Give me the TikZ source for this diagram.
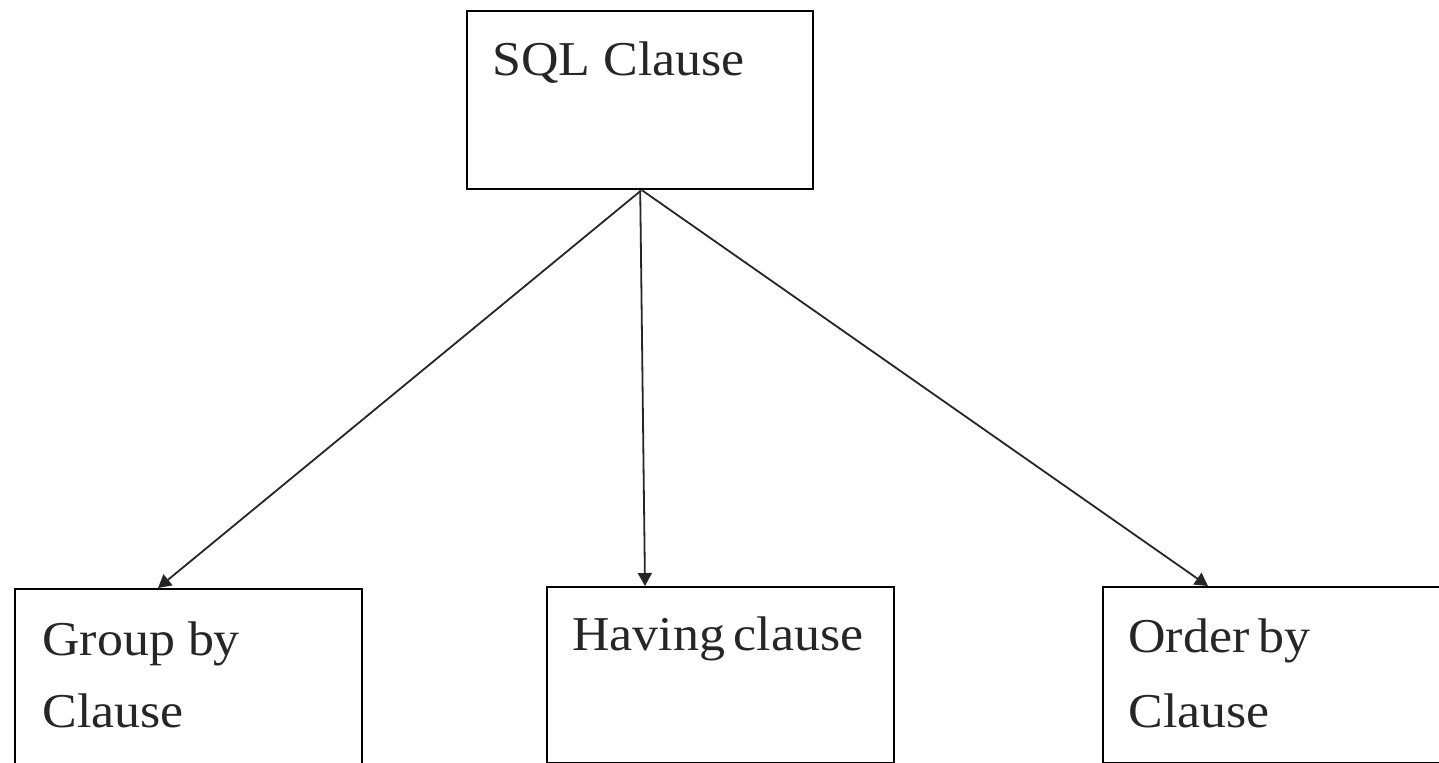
\documentclass[tikz,border=0pt]{standalone}
\usepackage{fontspec}
\setmainfont{Liberation Serif}
\usetikzlibrary{arrows.meta}
\tikzset{
  box/.style={draw=black, line width=1.2pt, fill=white, inner sep=0pt},
  lbl/.style={anchor=base west, inner sep=0pt, font=\fontsize{23.6}{36}\selectfont, text=black!85},
  conn/.style={draw=black!85, line width=0.9pt, -{Triangle[length=6.5pt,width=7pt]}}
}
\newcommand{\wtxt}[1]{\scalebox{1.1}[1.03]{#1}}
\begin{document}
\begin{tikzpicture}[x=0.5pt,y=-0.5pt]
\useasboundingbox (0,0) rectangle (1439,762);
\fill[white] (0,0) rectangle (1439,762);
% boxes
\node[box, minimum width=173pt, minimum height=89pt, anchor=north west] (sql) at (466,10) {};
\node[box, minimum width=173.5pt, minimum height=88pt, anchor=north west] (grp) at (14,588) {};
\node[box, minimum width=173.5pt, minimum height=88pt, anchor=north west] (hav) at (546,586) {};
\node[box, minimum width=175pt, minimum height=88pt, anchor=north west] (ord) at (1102,586) {};
% labels
\node[lbl] (sqlt) at (492,75) {\wtxt{SQL Clause}};
\node[lbl] (grpt1) at (42,655) {\wtxt{Group by}};
\node[lbl] (grpt2) at (42,727) {\wtxt{Clause}};
\node[lbl] (havt) at (572,650) {\wtxt{Having\hspace{-2pt} clause}};
\node[lbl] (ordt1) at (1128,652) {\wtxt{Order\hspace{-2pt} by}};
\node[lbl] (ordt2) at (1128,727) {\wtxt{Clause}};
% arrow targets
\coordinate (ga) at (158,588);
\coordinate (ha) at (645,586);
\coordinate (oa) at (1208,586);
\draw[conn] (sql.south) ++(1,0) -- (ga);
\draw[conn] (sql.south) -- (ha);
\draw[conn] (sql.south) ++(2,0) -- (oa);
\end{tikzpicture}
\end{document}
